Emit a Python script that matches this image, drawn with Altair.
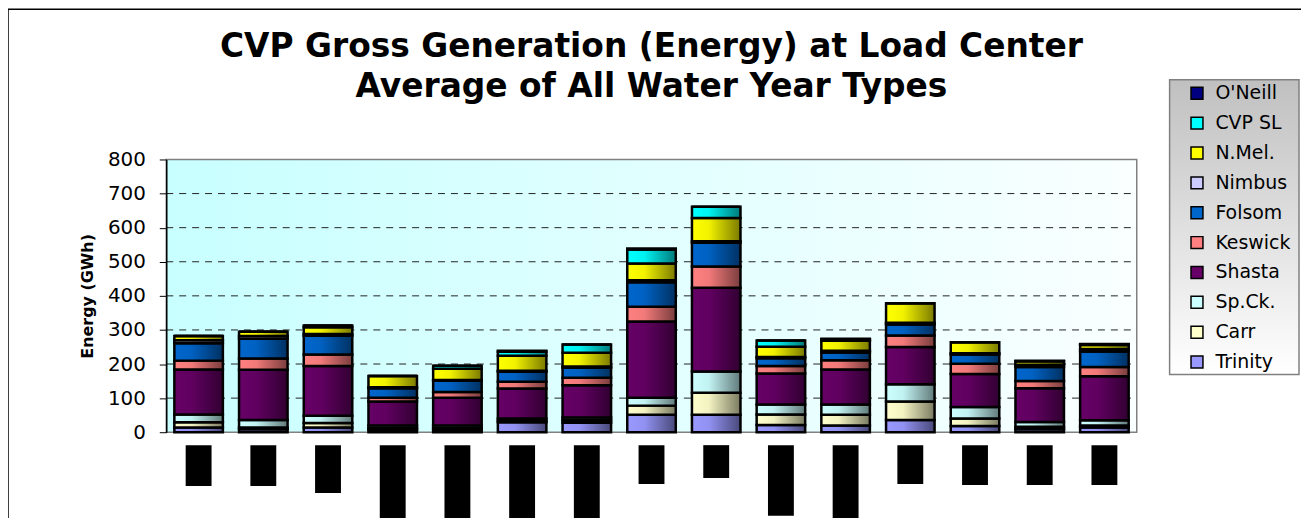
import altair as alt
import pandas as pd

# ---- data ----
periods = [f"P{i}" for i in range(1, 16)]          # x labels are redacted (black boxes) in the source
series = ["Trinity", "Carr", "Sp.Ck.", "Shasta", "Keswick", "Folsom", "Nimbus", "N.Mel.", "CVP SL", "O'Neill"]
trinity = [14, 9, 14, 7, 7, 29, 28, 51, 51, 21, 20, 36, 18, 9, 14]
carr    = [15, 5, 13, 5, 5, 5, 7, 27, 65, 31, 31, 54, 22, 7, 6]
spck    = [23, 22, 21, 8, 8, 6, 8, 23, 62, 29, 30, 51, 34, 14, 15]
shasta  = [132, 147, 146, 70, 81, 88, 95, 224, 246, 91, 103, 109, 97, 99, 129]
keswick = [26, 33, 34, 11, 17, 20, 22, 43, 62, 22, 27, 34, 30, 21, 27]
folsom  = [51, 58, 55, 28, 33, 29, 29, 72, 70, 23, 23, 32, 27, 41, 46]
nimbus  = [9, 8, 5, 3, 2, 3, 4, 6, 4, 4, 5, 5, 4, 7, 7]
nmel    = [12, 13, 20, 33, 33, 44, 40, 49, 68, 30, 29, 57, 32, 10, 12]
cvpsl   = [0, 0, 5, 0, 9, 12, 24, 41, 33, 18, 3, 0, 0, 0, 2]
oneill  = [0, 0, 0, 0, 0, 3, 0, 3, 0, 0, 3, 0, 0, 2, 1]
# lengths of the redacted (blacked-out) category labels
redacted_len = [41, 41, 48, 77, 88, 78, 86, 39, 33, 71, 80, 39, 40, 40, 40]
y_ticks = [0, 100, 200, 300, 400, 500, 600, 700, 800]
grid_vals = [100, 200, 300, 400, 500, 600, 700]

colors = {
    "O'Neill": "#000080", "CVP SL": "#00FFFF", "N.Mel.": "#FFFF00", "Nimbus": "#CCCCFF",
    "Folsom": "#0066CC", "Keswick": "#FF8080", "Shasta": "#660066", "Sp.Ck.": "#CCFFFF",
    "Carr": "#FFFFCC", "Trinity": "#9999FF",
}

vals = [trinity, carr, spck, shasta, keswick, folsom, nimbus, nmel, cvpsl, oneill]
rows = []
for si, (s, v) in enumerate(zip(series, vals)):
    for p, x in zip(periods, v):
        rows.append({"period": p, "series": s, "value": x, "idx": si})
df = pd.DataFrame(rows)
lab_df = pd.DataFrame({"period": periods, "zero": 0, "len": redacted_len})
grid_df = pd.DataFrame({"v": grid_vals})
one = pd.DataFrame({"k": [0]})

W, H = 975, 274
legend_order = series[::-1]

xscale = alt.Scale(domain=periods, paddingInner=0.25, paddingOuter=0.125)
yscale = alt.Scale(domain=[0, 800], nice=False)

def grad(stops, horiz=True):
    return alt.Gradient(
        gradient="linear",
        stops=[alt.GradientStop(color=c, offset=o) for o, c in stops],
        x1=0, y1=0, x2=1 if horiz else 0, y2=0 if horiz else 1,
    )

# outer frame
frame = alt.Chart(one).mark_rect(filled=False, stroke="black", strokeWidth=1.5).encode(
    x=alt.value(-159), x2=alt.value(1300), y=alt.value(-151), y2=alt.value(500)
)

# plot background
bg = alt.Chart(one).mark_rect(
    fill=grad([(0, "#C8FFFF"), (1, "#FAFFFF")]), stroke="#808080", strokeWidth=1.5
).encode(x=alt.value(0), x2=alt.value(W), y=alt.value(0), y2=alt.value(H))

grid = alt.Chart(grid_df).mark_rule(color="#222222", strokeDash=[7, 6], strokeWidth=1).encode(
    y=alt.Y("v:Q", scale=yscale, axis=None), x=alt.value(0), x2=alt.value(W)
)

bars = alt.Chart(df).mark_bar(stroke="black", strokeWidth=2.5).encode(
    x=alt.X("period:N", scale=xscale, sort=periods,
            axis=alt.Axis(labels=False, title=None, tickBand="extent", tickSize=6,
                          tickColor="black", domainColor="black", domainWidth=1.5, zindex=1)),
    y=alt.Y("value:Q", stack="zero", scale=yscale,
            axis=alt.Axis(values=y_ticks, grid=False, title="Energy (GWh)",
                          titleFont="DejaVu Sans", titleFontSize=16, titleFontWeight="bold",
                          titleColor="black", titlePadding=12,
                          labelFont="DejaVu Sans", labelFontSize=20, labelColor="black",
                          labelPadding=14, tickSize=7, tickColor="black",
                          domainColor="black", domainWidth=1.5, zindex=1)),
    color=alt.Color("series:N", scale=alt.Scale(domain=legend_order,
                                                range=[colors[s] for s in legend_order]),
                    legend=alt.Legend(title=None, orient="none", legendX=1026, legendY=-76,
                                      labelFont="DejaVu Sans", labelFontSize=19, labelColor="black",
                                      symbolType="square", symbolSize=144,
                                      symbolStrokeColor="black", symbolStrokeWidth=1.5,
                                      rowPadding=10, labelOffset=9, padding=0, zindex=1)),
    order=alt.Order("idx:Q"),
)

shade = alt.Chart(df).mark_bar(
    fill=grad([(0, "rgba(0,0,0,0)"), (0.35, "rgba(0,0,0,0.05)"), (1, "rgba(0,0,0,0.52)")])
).encode(
    x=alt.X("period:N", scale=xscale, sort=periods, axis=None),
    y=alt.Y("sum(value):Q", scale=yscale, axis=None),
)

labels = alt.Chart(lab_df).mark_bar(color="black", width=26).encode(
    x=alt.X("period:N", scale=xscale, sort=periods, axis=None),
    y=alt.Y("zero:Q", scale=alt.Scale(domain=[0, 100], range=[287, 387], nice=False, zero=False), axis=None),
    y2="len:Q",
)

legend_box = alt.Chart(one).mark_rect(
    fill=grad([(0, "#C0C0C0"), (1, "#FFFFFF")], horiz=False), stroke="#808080", strokeWidth=1.5
).encode(x=alt.value(1008), x2=alt.value(1138), y=alt.value(-80), y2=alt.value(216))

chart = alt.layer(frame, bg, grid, bars, shade, labels, legend_box).resolve_scale(
    y="independent"
).properties(
    width=W, height=H,
    title=alt.TitleParams(
        ["CVP Gross Generation (Energy) at Load Center", "Average of All Water Year Types"],
        font="DejaVu Sans", fontSize=33, fontWeight="bold", color="black",
        lineHeight=40, anchor="middle", frame="group", offset=0, dy=96,
    ),
    autosize=alt.AutoSizeParams(type="none"),
    padding={"left": 159, "top": 151, "right": 165, "bottom": 85},
).configure_view(stroke=None)

chart.save("out.html", embed_options={"renderer": "svg", "actions": False})
